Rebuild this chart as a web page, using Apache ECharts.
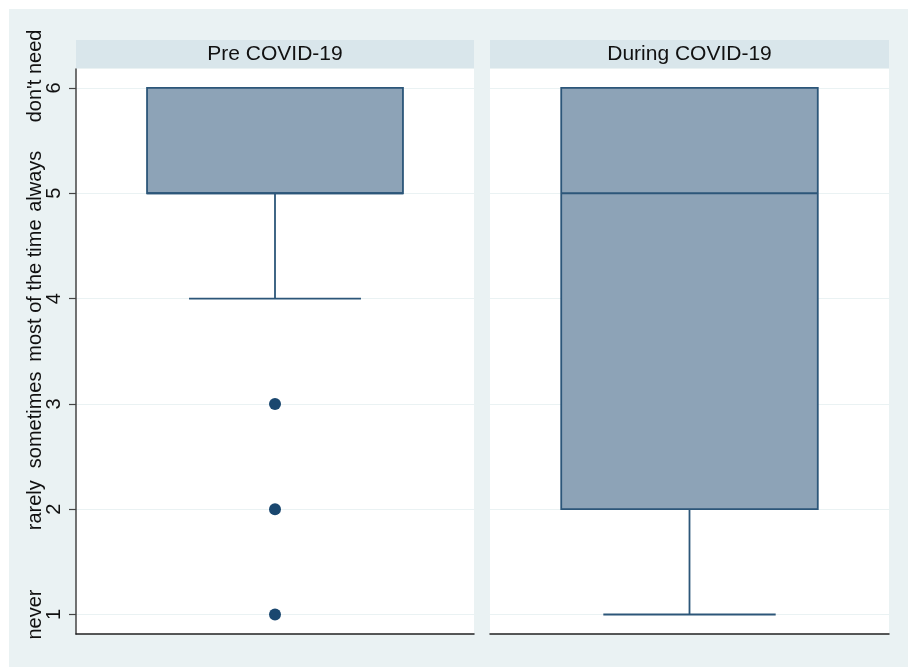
<!DOCTYPE html>
<html>
<head>
<meta charset="utf-8">
<script src="https://cdn.jsdelivr.net/npm/echarts@6/dist/echarts.min.js"></script>
<style>
  html, body { margin: 0; padding: 0; background: #ffffff; }
  #chart { width: 908px; height: 667px; }
</style>
</head>
<body>
<div id="chart"></div>
<script>
// Panels (one box per panel)
const panels = ['Pre COVID-19', 'During COVID-19'];

// Response scale: numeric codes and their value labels
const responseCodes = [1, 2, 3, 4, 5, 6];
const responseNames = ['never', 'rarely', 'sometimes', 'most of the time', 'always', "don't need"];

// Box statistics: [lower adjacent, Q1, median, Q3, upper adjacent]
const preStats = [4, 5, 5, 6, 6];
const duringStats = [1, 2, 5, 6, 6];

// Outside values
const preOutliers = [3, 2, 1];
const duringOutliers = [];

const NAVY = '#1a476f';
const BOX_FILL = '#8da3b7';
const BG = '#eaf2f3';
const STRIP = '#d9e6eb';
const FONT = '"Liberation Sans", Arial, sans-serif';

const Y_MIN = 0.815, Y_MAX = 6.18;

// Value-label nudges along the axis (px, positive = upwards) so long labels don't collide
const labelNudge = [0, 4, -16, 8, 12, 12];

const grids = [
  { left: 76, top: 69, width: 398, height: 565 },
  { left: 490, top: 69, width: 399, height: 565 }
];

function renderBox(params, api) {
  const x = api.value(0);
  const lo = api.coord([x, api.value(1)]);
  const q1 = api.coord([x, api.value(2)]);
  const med = api.coord([x, api.value(3)]);
  const q3 = api.coord([x, api.value(4)]);
  const hi = api.coord([x, api.value(5)]);
  const band = api.size([1, 0])[0];
  const bw = band * 0.643;
  const cw = band * 0.432;
  const cx = q1[0];
  const lineStyle = { stroke: '#2c5679', lineWidth: 1.8 };
  const children = [];
  if (api.value(1) < api.value(2)) {
    children.push({ type: 'line', shape: { x1: cx, y1: q1[1], x2: cx, y2: lo[1] }, style: lineStyle });
    children.push({ type: 'line', shape: { x1: cx - cw / 2, y1: lo[1], x2: cx + cw / 2, y2: lo[1] }, style: lineStyle });
  }
  if (api.value(5) > api.value(4)) {
    children.push({ type: 'line', shape: { x1: cx, y1: q3[1], x2: cx, y2: hi[1] }, style: lineStyle });
    children.push({ type: 'line', shape: { x1: cx - cw / 2, y1: hi[1], x2: cx + cw / 2, y2: hi[1] }, style: lineStyle });
  }
  children.push({
    type: 'rect',
    shape: { x: cx - bw / 2, y: q3[1], width: bw, height: q1[1] - q3[1] },
    style: { fill: BOX_FILL, stroke: '#2c5679', lineWidth: 1.8 }
  });
  children.push({ type: 'line', shape: { x1: cx - bw / 2, y1: med[1], x2: cx + bw / 2, y2: med[1] }, style: lineStyle });
  return { type: 'group', children: children };
}

// Rich styles that shift each rotated value label along the axis
const labelRich = {};
labelNudge.forEach((d, i) => {
  labelRich['n' + i] = {
    fontSize: 20, color: '#111', fontFamily: FONT,
    padding: d >= 0 ? [0, 0, 0, 2 * d] : [0, -2 * d, 0, 0]
  };
});

const chart = echarts.init(document.getElementById('chart'), null, { renderer: 'canvas' });

const option = {
  backgroundColor: '#ffffff',
  animation: false,
  textStyle: { fontFamily: FONT },
  grid: grids.map(g => Object.assign({ show: true, backgroundColor: '#ffffff', borderWidth: 0 }, g)),
  xAxis: panels.map((p, i) => ({
    type: 'category',
    gridIndex: i,
    data: [p],
    axisLine: { show: true, lineStyle: { color: '#222', width: 1.5 } },
    axisTick: { show: false },
    axisLabel: { show: false },
    splitLine: { show: false }
  })),
  yAxis: [
    {
      type: 'value', gridIndex: 0, min: Y_MIN, max: Y_MAX,
      axisLine: { show: true, lineStyle: { color: '#444', width: 1.5 } },
      axisTick: { show: true, length: 7, customValues: responseCodes, lineStyle: { color: '#444', width: 1.2 } },
      axisLabel: { customValues: responseCodes, rotate: 90, margin: 12, fontSize: 20, color: '#111', fontFamily: FONT },
      splitLine: { show: true, lineStyle: { color: BG, width: 1.2 } }
    },
    {
      type: 'value', gridIndex: 0, min: Y_MIN, max: Y_MAX, position: 'left',
      axisLine: { show: false }, axisTick: { show: false },
      axisLabel: {
        customValues: responseCodes, rotate: 90, margin: 31, fontSize: 20, color: '#111', fontFamily: FONT,
        formatter: v => {
          const i = responseCodes.indexOf(Math.round(v));
          return '{n' + i + '|' + responseNames[i] + '}';
        },
        rich: labelRich
      },
      splitLine: { show: false }
    },
    {
      type: 'value', gridIndex: 1, min: Y_MIN, max: Y_MAX,
      axisLine: { show: false },
      axisTick: { show: false, customValues: responseCodes },
      axisLabel: { show: false, customValues: responseCodes },
      splitLine: { show: true, lineStyle: { color: BG, width: 1.2 } }
    }
  ],
  graphic: [
    { type: 'rect', z: -10, shape: { x: 9, y: 9, width: 899, height: 658 }, style: { fill: BG } },
    { type: 'rect', z: -5, shape: { x: 76, y: 40, width: 398, height: 28 }, style: { fill: STRIP } },
    { type: 'rect', z: -5, shape: { x: 490, y: 40, width: 399, height: 28 }, style: { fill: STRIP } },
    { type: 'text', z: 5, x: 275, y: 54, style: { text: panels[0], fill: '#111', font: '21px ' + FONT, align: 'center', verticalAlign: 'middle' } },
    { type: 'text', z: 5, x: 689.5, y: 54, style: { text: panels[1], fill: '#111', font: '21px ' + FONT, align: 'center', verticalAlign: 'middle' } }
  ],
  series: [
    {
      type: 'custom', xAxisIndex: 0, yAxisIndex: 0,
      renderItem: renderBox,
      encode: { x: 0, y: [1, 2, 3, 4, 5] },
      data: [[panels[0]].concat(preStats)]
    },
    {
      type: 'custom', xAxisIndex: 1, yAxisIndex: 2,
      renderItem: renderBox,
      encode: { x: 0, y: [1, 2, 3, 4, 5] },
      data: [[panels[1]].concat(duringStats)]
    },
    {
      type: 'scatter', xAxisIndex: 0, yAxisIndex: 0,
      symbol: 'circle', symbolSize: 12,
      itemStyle: { color: NAVY, opacity: 1 },
      data: preOutliers.map(v => [panels[0], v])
    },
    {
      type: 'scatter', xAxisIndex: 1, yAxisIndex: 2,
      symbol: 'circle', symbolSize: 12,
      itemStyle: { color: NAVY, opacity: 1 },
      data: duringOutliers.map(v => [panels[1], v])
    }
  ]
};

chart.setOption(option);
</script>
</body>
</html>
